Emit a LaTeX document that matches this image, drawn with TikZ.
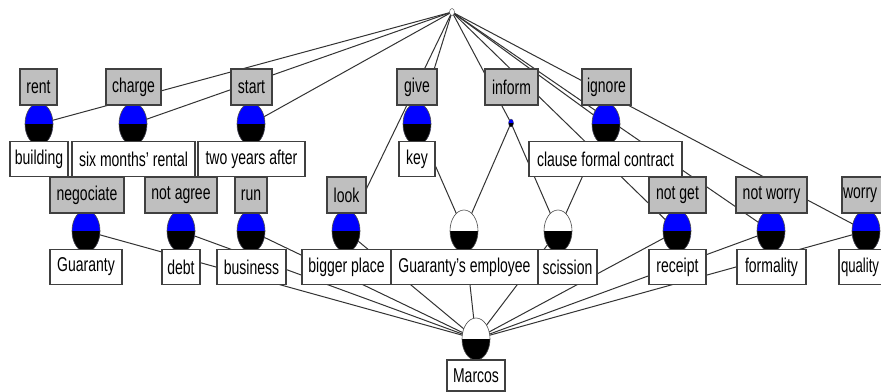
\documentclass[tikz,border=0pt]{standalone}
\usepackage{fontspec}
\setmainfont{Liberation Sans}[FakeStretch=0.7]
\usetikzlibrary{shapes.geometric,backgrounds}

\tikzset{
  labelfont/.style={font=\fontsize{20}{22}\selectfont},
  edge/.style={draw=black!80, line width=1pt},
  attr/.style={labelfont, draw=black!75, line width=1.1pt, fill=gray!50,
    inner sep=0pt, minimum height=36pt},
  obj/.style={labelfont, draw=black!75, line width=1.1pt, fill=white,
    inner sep=0pt, minimum height=35pt},
  concept/.style={ellipse, inner sep=0pt, minimum width=28pt, minimum height=42pt,
    draw=black!70, line width=0.6pt, fill=blue,
    path picture={\fill[black] (path picture bounding box.west) rectangle
      (path picture bounding box.south east);}},
  plainconcept/.style={concept, fill=white},
}

\begin{document}
\begin{tikzpicture}[x=1pt, y=-1pt]
\useasboundingbox (0,0) rectangle (881,391);
\clip (0,0) rectangle (881,391);

% concepts of the lattice
\node[ellipse, inner sep=0pt, minimum width=5pt, minimum height=7pt,
      draw=black!60, line width=0.5pt, fill=white] (top) at (452,12) {};
\node[concept] (c-rent)   at (39,124) {};
\node[concept] (c-charge) at (133,124) {};
\node[concept] (c-start)  at (251,124) {};
\node[concept] (c-give)   at (417,124) {};
\node[concept, minimum width=5pt, minimum height=8pt, line width=0.3pt] (c-inform) at (511,123) {};
\node[concept] (c-ignore) at (606,124) {};

\node[concept] (c-negociate) at (86,231) {};
\node[concept] (c-notagree)  at (181,231) {};
\node[concept] (c-run)       at (251,231) {};
\node[concept] (c-look)      at (346,231) {};
\node[plainconcept] (c-employee) at (464,231) {};
\node[plainconcept] (c-scission) at (558,231) {};
\node[concept] (c-notget)    at (677,231) {};
\node[concept] (c-notworry)  at (771,231) {};
\node[concept] (c-worry)     at (866,231) {};

\node[plainconcept] (c-marcos) at (476,339) {};

% attribute labels
\node[attr, minimum width=37pt] (l-rent)   at (38.5,87) {rent};
\node[attr, minimum width=55pt] (l-charge) at (133.5,87) {charge};
\node[attr, minimum width=41pt] (l-start)  at (251.5,87) {start};
\node[attr, minimum width=40pt] (l-give)   at (417,87) {give};
\node[attr, minimum width=53pt] (l-inform) at (511.5,87) {inform};
\node[attr, minimum width=49pt] (l-ignore) at (606.5,87) {ignore};

\node[attr, minimum width=74pt] (l-negociate) at (87,195) {negociate};
\node[attr, minimum width=72pt] (l-notagree)  at (181,195) {not agree};
\node[attr, minimum width=32pt] (l-run)       at (251,195) {run};
\node[attr, minimum width=39pt] (l-look)      at (346.5,195) {look};
\node[attr, minimum width=57pt] (l-notget)    at (677.5,195) {not get};
\node[attr, minimum width=71pt] (l-notworry)  at (771.5,195) {not worry};
% the last column runs past the right edge; its texts sit at the box's left
\node[attr, minimum width=50pt] (l-worry)     at (867,195) {\makebox[48pt][l]{worry}};

% object labels
\node[obj, minimum width=58pt]  (o-building) at (39,159) {building};
\node[obj, minimum width=123pt] (o-rental)   at (133.5,159) {six months' rental};
\node[obj, minimum width=107pt] (o-twoyears) at (251.5,159) {two years after};
\node[obj, minimum width=36pt]  (o-key)      at (417,159) {key};
\node[obj, minimum width=153pt] (o-clause)   at (605.5,159) {clause formal contract};

\node[obj, minimum width=72pt]  (o-guaranty) at (86,267) {Guaranty};
\node[obj, minimum width=38pt]  (o-debt)     at (181,267) {debt};
\node[obj, minimum width=69pt]  (o-business) at (251.5,267) {business};
\node[obj, minimum width=89pt]  (o-bigger)   at (346.5,267) {bigger place};
\node[obj, minimum width=147pt] (o-employee) at (464.5,267) {Guaranty's employee};
\node[obj, minimum width=59pt]  (o-scission) at (567.5,267) {scission};
\node[obj, minimum width=57pt]  (o-receipt)  at (677.5,267) {receipt};
\node[obj, minimum width=69pt]  (o-formality) at (771.5,267) {formality};
\node[obj, minimum width=56pt]  (o-quality)  at (867,267) {\makebox[52pt][l]{\scalebox{0.94}[1]{quality}}};

\node[obj, minimum width=58pt, minimum height=31pt] (o-marcos) at (476,375.5) {Marcos};

% lattice edges, behind every node
\begin{scope}[on background layer]
\fill[white] (0,0) rectangle (881,391);
\foreach \n in {rent,charge,start,look,give,inform,notget,ignore,notworry,worry}
  \draw[edge] (top.center) -- (c-\n.center);
\draw[edge] (c-give.center) -- (c-employee.center);
\draw[edge] (c-inform.center) -- (c-employee.center);
\draw[edge] (c-inform.center) -- (c-scission.center);
\draw[edge] (c-ignore.center) -- (c-scission.center);
\foreach \n in {negociate,notagree,run,look,employee,scission,notget,notworry,worry}
  \draw[edge] (c-marcos.center) -- (c-\n.center);
\end{scope}
\end{tikzpicture}
\end{document}
